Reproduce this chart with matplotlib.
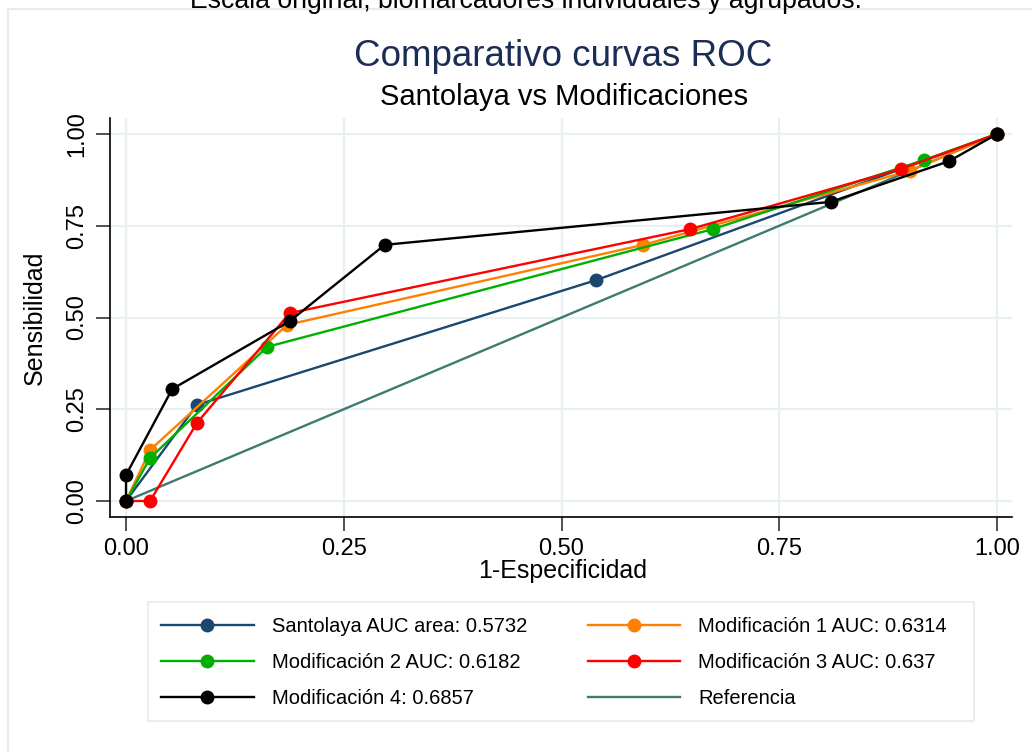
import matplotlib.pyplot as plt
import matplotlib.patches as patches

plt.rcParams['font.family'] = ['Liberation Sans', 'DejaVu Sans']

# ROC points (1-Especificidad, Sensibilidad)
santolaya_x = [0.0, 0.0815, 0.540, 1.0]
santolaya_y = [0.0, 0.262, 0.602, 1.0]

mod1_x = [0.0, 0.0276, 0.185, 0.594, 0.900, 1.0]
mod1_y = [0.0, 0.139, 0.480, 0.698, 0.900, 1.0]

mod2_x = [0.0, 0.0276, 0.162, 0.674, 0.916, 1.0]
mod2_y = [0.0, 0.117, 0.420, 0.741, 0.929, 1.0]

mod3_x = [0.0, 0.0276, 0.0815, 0.188, 0.648, 0.890, 1.0]
mod3_y = [0.0, 0.0, 0.213, 0.512, 0.741, 0.905, 1.0]

mod4_x = [0.0, 0.0, 0.053, 0.188, 0.297, 0.809, 0.945, 1.0]
mod4_y = [0.0, 0.071, 0.305, 0.490, 0.698, 0.815, 0.926, 1.0]

ref_x = [0.0, 1.0]
ref_y = [0.0, 1.0]

labels = ['Santolaya AUC area: 0.5732', 'Modificación 1 AUC: 0.6314',
          'Modificación 2 AUC: 0.6182', 'Modificación 3 AUC: 0.637',
          'Modificación 4: 0.6857', 'Referencia']
ticks = [0.0, 0.25, 0.5, 0.75, 1.0]
tick_labels = ['0.00', '0.25', '0.50', '0.75', '1.00']

fig = plt.figure(figsize=(10.32, 7.51), dpi=100)
fig.patches.append(patches.Rectangle((8 / 1032, -0.1), 1.2, 1 - 9 / 751 + 0.1,
                                     transform=fig.transFigure, fill=False,
                                     edgecolor='#e3ecef', linewidth=1.5))
# legend box drawn separately so it can be wider than its contents
fig.patches.append(patches.Rectangle((148 / 1032, 1 - 721 / 751), (974 - 148) / 1032,
                                     (721 - 602) / 751, transform=fig.transFigure,
                                     fill=False, edgecolor='#e3ecef', linewidth=1.2))

ax = fig.add_axes([110 / 1032, 1 - 517 / 751, (1012 - 110) / 1032, (517 - 118) / 751])

lw = 1.7
ms = 9
h_ref, = ax.plot(ref_x, ref_y, color='#3d7a70', lw=lw, zorder=2)
h0, = ax.plot(santolaya_x, santolaya_y, color='#1a476f', lw=lw, marker='o', ms=ms, zorder=3)
h1, = ax.plot(mod1_x, mod1_y, color='#ff8000', lw=lw, marker='o', ms=ms, zorder=3)
h2, = ax.plot(mod2_x, mod2_y, color='#00b000', lw=lw, marker='o', ms=ms, zorder=3)
h3, = ax.plot(mod3_x, mod3_y, color='#ff0000', lw=lw, marker='o', ms=ms, zorder=3)
h4, = ax.plot(mod4_x, mod4_y, color='black', lw=lw, marker='o', ms=ms, zorder=4)

ax.set_xlim(-0.0184, 1.0172)
ax.set_ylim(-0.0436, 1.0436)
ax.set_xticks(ticks)
ax.set_xticklabels(tick_labels)
ax.set_yticks(ticks)
ax.set_yticklabels(tick_labels, rotation=90, va='center')
ax.tick_params(labelsize=17, length=10, width=1.2, color='#333333')
ax.tick_params(axis='x', pad=5)
ax.tick_params(axis='y', pad=6)
ax.grid(True, color='#e8f0f2', lw=1.6)
ax.set_axisbelow(True)
for s in ['top', 'right']:
    ax.spines[s].set_visible(False)
for s in ['left', 'bottom']:
    ax.spines[s].set_linewidth(1.2)

ax.set_xlabel('1-Especificidad', fontsize=18)
ax.xaxis.set_label_coords(0.502, -0.106)
ax.set_ylabel('Sensibilidad', fontsize=18, labelpad=14)

fig.text(563 / 1032, 1 - 66 / 751, 'Comparativo curvas ROC', ha='center', va='baseline',
         fontsize=26.5, color='#1c2d55')
fig.text(564 / 1032, 1 - 105 / 751, 'Santolaya vs Modificaciones', ha='center', va='baseline',
         fontsize=21, color='black')
fig.text(526 / 1032, 1 - 8 / 751, 'Escala original, biomarcadores individuales y agrupados.',
         ha='center', va='baseline', fontsize=19.2, color='black')

# row-major legend order like the reference
leg = fig.legend([h0, h2, h4, h1, h3, h_ref],
                 [labels[0], labels[2], labels[4], labels[1], labels[3], labels[5]], ncol=2,
                 bbox_to_anchor=(148 / 1032, 1 - 604 / 751), loc='upper left',
                 borderaxespad=0, fontsize=14.5, handlelength=4.6, handletextpad=0.9,
                 labelspacing=0.85, borderpad=0.65, columnspacing=3.0, frameon=False)

fig.savefig('out.png', dpi=100)
